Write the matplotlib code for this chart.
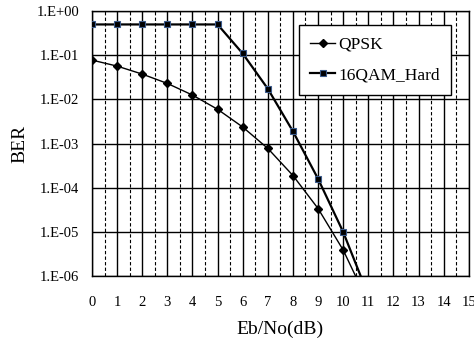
import matplotlib
matplotlib.use("Agg")
import matplotlib.pyplot as plt
import numpy as np

ebno = [0, 1, 2, 3, 4, 5, 6, 7, 8, 9, 10, 11]
qpsk = [0.078, 0.057, 0.0376, 0.0231, 0.0126, 0.0060, 0.00238, 7.8e-4, 1.9e-4, 3.4e-5, 3.9e-6, 2.5e-7]
qam16 = [0.5, 0.5, 0.5, 0.5, 0.5, 0.5, 0.110, 0.0175, 0.0019, 1.6e-4, 1.0e-5, 3.7e-7]
xticks = list(range(0, 16))
yticks = [1e0, 1e-1, 1e-2, 1e-3, 1e-4, 1e-5, 1e-6]
ylabels = ["1.E+00", "1.E-01", "1.E-02", "1.E-03", "1.E-04", "1.E-05", "1.E-06"]

plt.rcParams['font.family'] = ['Liberation Serif', 'DejaVu Serif']
fig = plt.figure(figsize=(4.74, 3.38), dpi=100)
ax = fig.add_axes([0.194, 0.183, 0.795, 0.784])

ax.plot(ebno, qpsk, color='black', lw=1.0, marker='D', markersize=4, label='QPSK', zorder=3)
ax.plot(ebno, qam16, color='black', lw=1.6, marker='s', markersize=5,
        markerfacecolor='black', markeredgecolor='#3a5a8a', markeredgewidth=0.8,
        label='16QAM_Hard', zorder=3)

ax.set_yscale('log')
ax.set_xlim(0, 15)
ax.set_ylim(1e-6, 1e0)
ax.set_xticks(xticks)
ax.set_xticklabels([str(t) for t in xticks], fontsize=10.5)
ax.set_yticks(yticks)
ax.set_yticklabels(ylabels, fontsize=10.5)
ax.yaxis.set_minor_locator(matplotlib.ticker.NullLocator())
ax.tick_params(axis='both', length=0)
ax.tick_params(axis='x', pad=14)
ax.tick_params(axis='y', pad=9)

for x in xticks:
    ax.axvline(x, color='black', lw=1.0, zorder=1)
for x in np.arange(0.5, 15, 1.0):
    ax.axvline(x, color='black', lw=0.8, ls=(0, (3, 2)), zorder=1)
for y in yticks:
    ax.axhline(y, color='black', lw=1.0, zorder=1)
for s in ax.spines.values():
    s.set_linewidth(1.0)

ax.set_xlabel('Eb/No(dB)', fontsize=14, labelpad=9)
ax.set_ylabel('BER', fontsize=14, labelpad=6)

leg = ax.legend(loc='upper right', bbox_to_anchor=(0.953, 0.947), fontsize=12.5,
                frameon=True, fancybox=False, edgecolor='black', framealpha=1,
                handlelength=1.4, labelspacing=0.85, borderpad=0.65, handletextpad=0.2,
                borderaxespad=0)
leg.get_frame().set_linewidth(1.0)

fig.savefig('out.png', dpi=100)
